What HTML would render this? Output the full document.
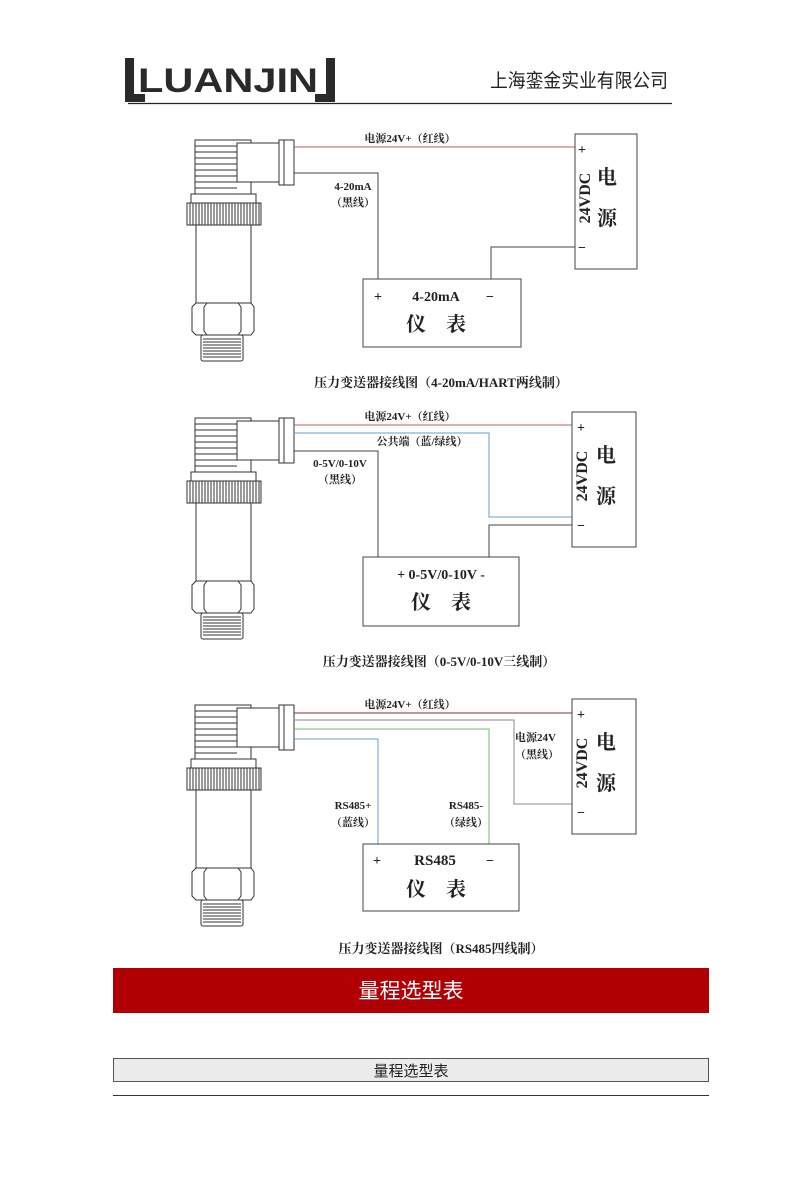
<!DOCTYPE html>
<html><head><meta charset="utf-8"><style>
html,body{margin:0;padding:0;background:#fff;}
svg{display:block;}
.s{font-family:"Liberation Serif","Noto Serif CJK SC",serif;font-weight:bold;fill:#222;}
.h{font-family:"Liberation Sans","Noto Sans CJK SC",sans-serif;}
</style></head><body>
<svg width="800" height="1200" viewBox="0 0 800 1200" xmlns="http://www.w3.org/2000/svg">
<defs>
<g id="tr" fill="none" stroke="#333" stroke-width="1">
  <rect x="195" y="140" width="56" height="54" fill="#fff"/>
  <path d="M195 146H237M195 152H237M195 158H237M195 164H237M195 170H237M195 176H237M195 182H237M195 188H237"/>
  <rect x="237" y="143" width="42" height="39" fill="#fff"/>
  <rect x="279" y="140" width="15" height="45" fill="#fff"/>
  <line x1="284" y1="140" x2="284" y2="185"/>
  <rect x="191" y="194" width="65" height="9" fill="#fff"/>
  <rect x="187" y="203" width="74" height="22" fill="#fff"/>
  <path d="M190 203v22M193 203v22M196 203v22M199 203v22M202 203v22M205 203v22M208 203v22M211 203v22M214 203v22M217 203v22M220 203v22M223 203v22M226 203v22M229 203v22M232 203v22M235 203v22M238 203v22M241 203v22M244 203v22M247 203v22M250 203v22M253 203v22M256 203v22M259 203v22"/>
  <rect x="196" y="225" width="55" height="78" fill="#fff"/>
  <path d="M196 303H251l3 4v24l-3 4H196l-4-4V307Z" fill="#fff"/>
  <path d="M207 303l-3 4v24l3 4M238 303l3 4v24l-3 4"/>
  <rect x="201" y="335" width="42" height="26" rx="2" fill="#fff"/>
  <path d="M203 339H241M203 342H241M203 345H241M203 348H241M203 351H241M203 354H241M203 357H241"/>
</g>
</defs>

<!-- header -->
<g fill="#2a2a2a">
  <rect x="125" y="58" width="9" height="44"/><rect x="125" y="94" width="20" height="8"/>
  <rect x="326" y="58" width="9" height="44"/><rect x="315" y="94" width="20" height="8"/>
</g>
<text x="138" y="92" font-family="Liberation Sans,sans-serif" font-size="34" font-weight="bold" fill="#2a2a2a" textLength="180" lengthAdjust="spacingAndGlyphs">LUANJIN</text>
<text x="490" y="87" class="h" font-size="19" fill="#222" textLength="178" lengthAdjust="spacingAndGlyphs">上海銮金实业有限公司</text>
<line x1="128" y1="103.5" x2="672" y2="103.5" stroke="#222" stroke-width="1.3"/>

<!-- Diagram 1 -->
<use href="#tr"/>
<g fill="none" stroke-width="1">
  <path d="M294 147H575" stroke="#b06060"/>
  <path d="M294 173H378V279" stroke="#444"/>
  <path d="M491 279V247H575" stroke="#444"/>
  <rect x="363" y="279" width="158" height="68" stroke="#444"/>
  <rect x="575" y="134" width="62" height="135" stroke="#444"/>
</g>
<g class="s">
  <text x="410" y="142" font-size="11" text-anchor="middle">电源24V+（红线）</text>
  <text x="353" y="190" font-size="11" text-anchor="middle">4-20mA</text>
  <text x="353" y="206" font-size="11" text-anchor="middle">（黑线）</text>
  <text x="378" y="301" font-size="14" text-anchor="middle">+</text>
  <text x="436" y="301" font-size="14" text-anchor="middle">4-20mA</text>
  <text x="490" y="301" font-size="14" text-anchor="middle">−</text>
  <text x="436" y="331" font-size="20" text-anchor="middle">仪　表</text>
  <text x="582" y="154" font-size="14" text-anchor="middle">+</text>
  <text x="582" y="252" font-size="14" text-anchor="middle">−</text>
  <text transform="translate(590,198) rotate(-90)" font-size="16" text-anchor="middle">24VDC</text>
  <text x="607" y="184" font-size="20" text-anchor="middle">电</text>
  <text x="607" y="225" font-size="20" text-anchor="middle">源</text>
  <text x="441" y="387" font-size="13" text-anchor="middle">压力变送器接线图（4-20mA/HART两线制）</text>
</g>

<!-- Diagram 2 -->
<use href="#tr" transform="translate(0,278)"/>
<g fill="none" stroke-width="1">
  <path d="M294 425H572" stroke="#b06060"/>
  <path d="M294 433H489V517H572" stroke="#6a9fc8"/>
  <path d="M294 451H378V557" stroke="#444"/>
  <path d="M489 557V525H572" stroke="#444"/>
  <rect x="363" y="557" width="156" height="69" stroke="#444"/>
  <rect x="572" y="412" width="64" height="135" stroke="#444"/>
</g>
<g class="s">
  <text x="410" y="420" font-size="11" text-anchor="middle">电源24V+（红线）</text>
  <text x="422" y="445" font-size="11" text-anchor="middle">公共端（蓝/绿线）</text>
  <text x="340" y="467" font-size="11" text-anchor="middle">0-5V/0-10V</text>
  <text x="340" y="483" font-size="11" text-anchor="middle">（黑线）</text>
  <text x="441" y="579" font-size="14" text-anchor="middle">+ 0-5V/0-10V -</text>
  <text x="441" y="609" font-size="20" text-anchor="middle">仪　表</text>
  <text x="581" y="432" font-size="14" text-anchor="middle">+</text>
  <text x="581" y="530" font-size="14" text-anchor="middle">−</text>
  <text transform="translate(587,476) rotate(-90)" font-size="16" text-anchor="middle">24VDC</text>
  <text x="606" y="462" font-size="20" text-anchor="middle">电</text>
  <text x="606" y="503" font-size="20" text-anchor="middle">源</text>
  <text x="439" y="666" font-size="13" text-anchor="middle">压力变送器接线图（0-5V/0-10V三线制）</text>
</g>

<!-- Diagram 3 -->
<use href="#tr" transform="translate(0,565)"/>
<g fill="none" stroke-width="1">
  <path d="M294 713H572" stroke="#7a3030"/>
  <path d="M294 720H514V804H572" stroke="#888"/>
  <path d="M294 729H489V844" stroke="#6cbf6c"/>
  <path d="M294 739H378V844" stroke="#6a9fc8"/>
  <rect x="363" y="844" width="156" height="67" stroke="#444"/>
  <rect x="572" y="699" width="64" height="135" stroke="#444"/>
</g>
<g class="s">
  <text x="410" y="708" font-size="11" text-anchor="middle">电源24V+（红线）</text>
  <text x="515" y="741" font-size="11">电源24V</text>
  <text x="515" y="758" font-size="11">（黑线）</text>
  <text x="353" y="809" font-size="11" text-anchor="middle">RS485+</text>
  <text x="353" y="826" font-size="11" text-anchor="middle">（蓝线）</text>
  <text x="466" y="809" font-size="11" text-anchor="middle">RS485-</text>
  <text x="466" y="826" font-size="11" text-anchor="middle">（绿线）</text>
  <text x="377" y="865" font-size="14" text-anchor="middle">+</text>
  <text x="435" y="865" font-size="15" text-anchor="middle">RS485</text>
  <text x="490" y="865" font-size="14" text-anchor="middle">−</text>
  <text x="436" y="896" font-size="20" text-anchor="middle">仪　表</text>
  <text x="581" y="719" font-size="14" text-anchor="middle">+</text>
  <text x="581" y="817" font-size="14" text-anchor="middle">−</text>
  <text transform="translate(587,763) rotate(-90)" font-size="16" text-anchor="middle">24VDC</text>
  <text x="606" y="749" font-size="20" text-anchor="middle">电</text>
  <text x="606" y="790" font-size="20" text-anchor="middle">源</text>
  <text x="441" y="953" font-size="13" text-anchor="middle">压力变送器接线图（RS485四线制）</text>
</g>

<!-- banner & table -->
<rect x="113" y="968" width="596" height="45" fill="#b00005"/>
<text x="411" y="998" class="h" font-size="21" fill="#fff" text-anchor="middle">量程选型表</text>
<rect x="113.5" y="1058.5" width="595" height="23" fill="#ececec" stroke="#555" stroke-width="1"/>
<text x="411" y="1076" class="h" font-size="15" fill="#222" text-anchor="middle">量程选型表</text>
<line x1="113" y1="1095.5" x2="709" y2="1095.5" stroke="#333" stroke-width="1"/>
</svg>
</body></html>
